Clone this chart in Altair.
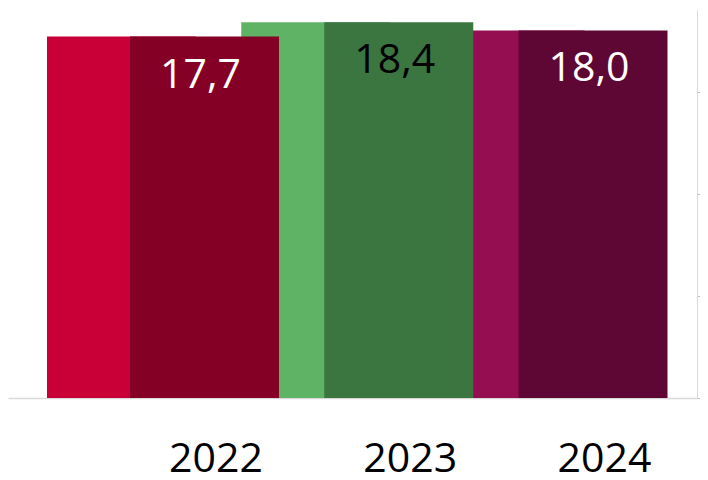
import altair as alt
import pandas as pd

years = ["2022", "2023", "2024"]
values = [17.7, 18.4, 18.0]
labels = ["17,7", "18,4", "18,0"]

light_colors = ["#C80037", "#5EB464", "#960E52"]
dark_colors = ["#840024", "#3B7540", "#5E0634"]

df = pd.DataFrame({"year": years, "value": values, "label": labels})

x = alt.X(
    "year:N",
    sort=years,
    scale=alt.Scale(type="band", paddingInner=0, paddingOuter=0.2735, align=0.9353),
    axis=alt.Axis(
        title=None,
        labelFont="Open Sans",
        labelFontSize=41,
        labelColor="#000000",
        labelAngle=0,
        ticks=False,
        tickSize=0,
        labelPadding=41,
        labelOffset=11.5,
        labelBaseline="top",
        domainColor="#d9d9d9",
        domainWidth=1.5,
    ),
)
y = alt.Y(
    "value:Q",
    scale=alt.Scale(domain=[0, 19], nice=False, zero=True),
    axis=alt.Axis(
        orient="right",
        title=None,
        labels=False,
        values=[0, 5, 10, 15],
        tickSize=3,
        tickColor="#bfbfbf",
        domainColor="#d9d9d9",
        grid=False,
    ),
)

base = alt.Chart(df)

light = base.mark_bar(width=149, xOffset=-83).encode(
    x=x,
    y=y,
    color=alt.Color("year:N", scale=alt.Scale(domain=years, range=light_colors), legend=None),
)
dark = base.mark_bar(width=149).encode(
    x=x,
    y=y,
    color=alt.Color("year:N", scale=alt.Scale(domain=years, range=dark_colors), legend=None),
)
text = base.mark_text(
    font="Open Sans", fontSize=41, baseline="alphabetic", dy=51, dx=-4
).encode(
    x=x,
    y=y,
    text="label:N",
    color=alt.condition("datum.year == '2023'", alt.value("#000000"), alt.value("#ffffff")),
)

chart = (
    alt.layer(light, dark, text)
    .resolve_scale(color="independent")
    .properties(
        width=689,
        height=388,
        autosize=alt.AutoSizeParams(type="none"),
        padding={"left": 0, "top": 2, "right": 3, "bottom": 74},
    )
    .configure_view(stroke=None)
)

chart.save("out.html", embed_options={"renderer": "svg", "actions": False})
